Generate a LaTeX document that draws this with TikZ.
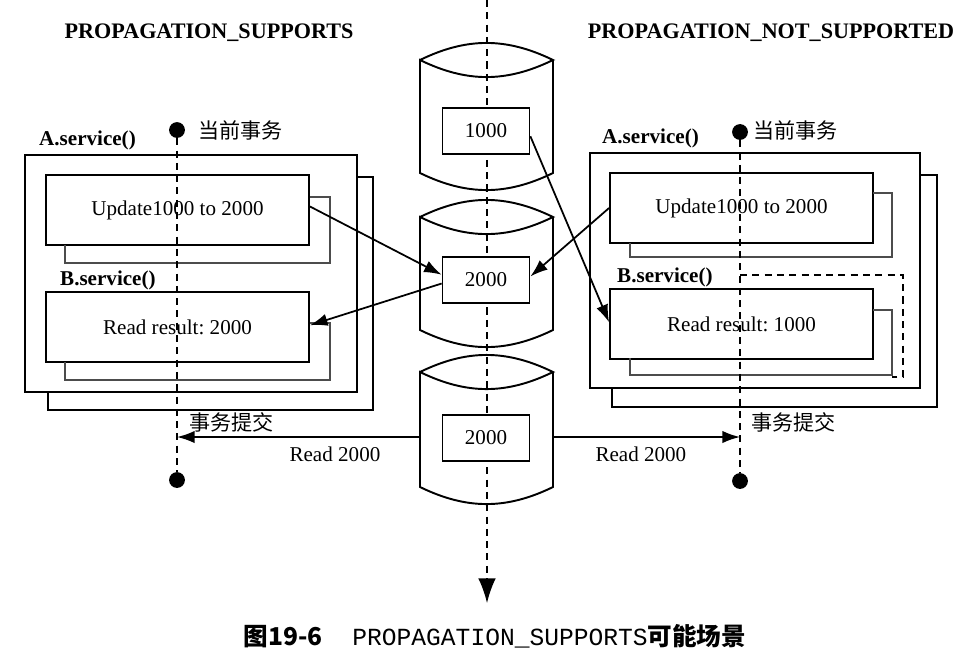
\documentclass[tikz,border=0pt]{standalone}
\usepackage{fontspec}
\setmainfont{Liberation Serif}
\setmonofont{Liberation Mono}
\newfontfamily\cjk{Noto Sans CJK SC}
\usetikzlibrary{arrows.meta}
\frenchspacing

\begin{document}
\begin{tikzpicture}[x=0.02cm,y=-0.02cm,
    >={Latex[length=10pt,width=7pt]},
    every node/.style={font=\fontsize{12}{14}\selectfont},
    outerbox/.style={line width=1.2pt},
    opbox/.style={draw,line width=1.1pt,minimum width=5.26cm,minimum height=1.4cm},
    valbox/.style={draw,fill=white,line width=1pt,minimum width=1.74cm,minimum height=0.93cm},
    shadowline/.style={line width=1pt,black!70},
    cyl/.style={line width=1.1pt},
    lifeline/.style={line width=0.9pt,dash pattern=on 4pt off 3pt},
    lifedot/.style={circle,fill,inner sep=0pt,minimum size=9pt}]
    \useasboundingbox (0,0) rectangle (959,653);

    % headings
    \node[font=\fontsize{12.6}{14}\bfseries] (hL) at (209,33) {PROPAGATION\_SUPPORTS};
    \node[font=\fontsize{12.6}{14}\bfseries] (hR) at (771,33) {PROPAGATION\_NOT\_SUPPORTED};

    % main time line through the database
    \coordinate (tTop) at (487,0);
    \coordinate (tBot) at (487,603);
    \draw[lifeline,-{Latex[length=14pt,width=10pt]}] (tTop) -- (tBot);

    % the three database states
    \draw[cyl] (420,60) to[bend left=26] (553,60) to[bend left=26] (420,60) -- (420,173) to[bend right=26] (553,173) -- (553,60);
    \draw[cyl] (420,217) to[bend left=26] (553,217) to[bend left=26] (420,217) -- (420,330) to[bend right=26] (553,330) -- (553,217);
    \draw[cyl] (420,372) to[bend left=26] (553,372) to[bend left=26] (420,372) -- (420,487) to[bend right=26] (553,487) -- (553,372);
    \coordinate (c3w) at (420,437);
    \coordinate (c3e) at (553,437);
    \node[valbox] (v1) at (486,131) {1000};
    \node[valbox] (v2) at (486,280) {2000};
    \node[valbox] (v3) at (486,438) {2000};

    % left: PROPAGATION_SUPPORTS
    \draw[outerbox] (25,155) rectangle (357,392);
    \draw[outerbox] (357,177) -| (373,410) -| (48,392);
    \node[opbox] (updL) at (177.5,210) {Update1000 to 2000};
    \node[opbox] (readL) at (177.5,327) {Read result: 2000};
    \draw[shadowline] (310,197) -| (330,263) -| (65,245);
    \draw[shadowline] (310,323) -| (330,380) -| (65,362);
    \node[anchor=west,font=\fontsize{12}{14}\bfseries] (aL) at (33,140) {A.service()};
    \node[anchor=west,font=\fontsize{12}{14}\bfseries] (bL) at (54,280) {B.service()};
    \node[lifedot] (sL) at (177,130) {};
    \node[lifedot] (eL) at (177,480) {};
    \draw[lifeline] (sL) -- (eL);
    \node[anchor=west,font=\fontsize{12}{14}\cjk] (curL) at (192,130) {当前事务};
    \node[anchor=west,font=\fontsize{12}{14}\cjk] (comL) at (183,422) {事务提交};

    % right: PROPAGATION_NOT_SUPPORTED
    \draw[outerbox] (590,153) rectangle (920,388);
    \draw[outerbox] (920,175) -| (937,407) -| (612,388);
    \node[opbox] (updR) at (741.5,208) {Update1000 to 2000};
    \node[opbox] (readR) at (741.5,324) {Read result: 1000};
    \draw[shadowline] (873,193) -| (892,257) -| (630,243);
    \draw[shadowline] (873,310) -| (892,375) -| (630,358);
    \draw[lifeline] (740,275) -| (903,377) -- (892,377);
    \node[anchor=west,font=\fontsize{12}{14}\bfseries] (aR) at (596,138) {A.service()};
    \node[anchor=west,font=\fontsize{12}{14}\bfseries] (bR) at (611,277) {B.service()};
    \node[lifedot] (sR) at (740,132) {};
    \node[lifedot] (eR) at (740,481) {};
    \draw[lifeline] (sR) -- (eR);
    \node[anchor=west,font=\fontsize{12}{14}\cjk] (curR) at (747,130) {当前事务};
    \node[anchor=west,font=\fontsize{12}{14}\cjk] (comR) at (745,422) {事务提交};

    % reads and writes
    \draw[->,line width=1pt] ([yshift=2pt]updL.east) -- ([yshift=3pt]v2.west);
    \draw[->,line width=1pt] ([yshift=-2pt]v2.west) -- ([yshift=1pt]readL.east);
    \draw[->,line width=1pt] (updR.west) -- ([yshift=2pt]v2.east);
    \draw[->,line width=1pt] ([yshift=-3pt]v1.east) -- ([yshift=1pt]readR.west);
    \draw[->,line width=1pt] (c3w) -- (sL |- c3w) node[pos=0.35,below=2pt] {Read 2000};
    \draw[->,line width=1pt] (c3e) -- (sR |- c3e) node[pos=0.47,below=2pt] {Read 2000};

    % caption
    \node (cap) at (495,636) {\fontsize{14}{17}\selectfont{\cjk\bfseries 图19-6}\hspace{1.2em}{\ttfamily PROPAGATION\_SUPPORTS}{\cjk\bfseries 可能场景}};
\end{tikzpicture}
\end{document}
